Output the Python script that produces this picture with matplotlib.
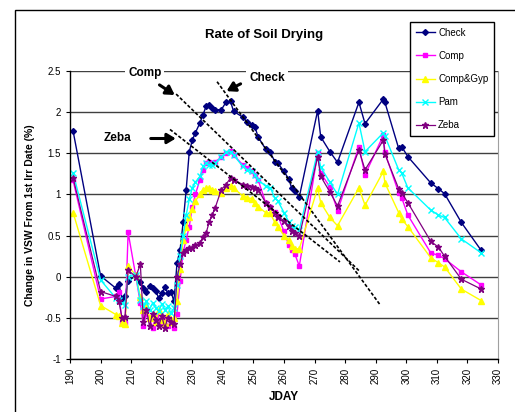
import numpy as np
import matplotlib
matplotlib.use('Agg')
import matplotlib.pyplot as plt
from matplotlib.patches import Rectangle

plt.rcParams['font.family'] = ['Liberation Sans', 'DejaVu Sans']
plt.rcParams['axes.unicode_minus'] = False

# measurement days (JDAY)
jday = [191, 200, 205, 206, 207, 208, 209, 211.5, 213, 214, 215, 216, 217, 218, 219,
        220, 221, 222, 223, 224, 225, 226, 227, 228, 229, 230, 231, 232.5, 233.5, 234.5,
        235.5, 236.5, 237.5, 239.5, 241, 242.5, 243.5, 246.5, 248, 249.5, 250.5, 251.5,
        254, 255.5, 257, 258, 260, 261.5, 262.5, 263.5, 265, 271, 272, 275, 277.5,
        284.5, 286.5, 292.5, 293, 297.5, 298.5, 300.5, 308, 310.5, 312.5, 318, 324.5]

check = [1.77, 0.01, -0.14, -0.09, -0.27, -0.23, -0.05, 0.01, -0.06, -0.14, -0.18, -0.11,
         -0.14, -0.17, -0.26, -0.20, -0.13, -0.20, -0.18, -0.30, 0.17, 0.33, 0.66, 1.06,
         1.52, 1.66, 1.75, 1.87, 1.97, 2.07, 2.09, 2.05, 2.03, 2.03, 2.12, 2.13, 2.01,
         1.94, 1.88, 1.85, 1.82, 1.70, 1.55, 1.51, 1.40, 1.38, 1.28, 1.19, 1.08, 1.04,
         0.97, 2.02, 1.70, 1.52, 1.39, 2.12, 1.86, 2.16, 2.12, 1.56, 1.58, 1.46, 1.14,
         1.07, 1.01, 0.66, 0.32]

comp = [1.17, -0.27, -0.24, -0.19, -0.56, -0.56, 0.54, 0.01, -0.32, -0.60, -0.45, -0.50,
        -0.62, -0.48, -0.55, -0.58, -0.50, -0.60, -0.55, -0.62, -0.45, -0.05, 0.30, 0.45,
        0.61, 0.85, 1.00, 1.18, 1.30, 1.38, 1.40, 1.38, 1.40, 1.45, 1.50, 1.53, 1.48,
        1.36, 1.32, 1.28, 1.24, 1.18, 0.90, 0.85, 0.79, 0.74, 0.55, 0.39, 0.32, 0.28,
        0.13, 1.50, 1.26, 1.09, 0.80, 1.58, 1.24, 1.72, 1.51, 1.02, 0.96, 0.75, 0.29,
        0.26, 0.22, 0.06, -0.10]

comp_gyp = [0.78, -0.35, -0.46, -0.48, -0.56, -0.57, 0.13, 0.02, -0.25, -0.40, -0.35, -0.50,
            -0.45, -0.55, -0.40, -0.52, -0.58, -0.45, -0.55, -0.50, -0.30, 0.10, 0.45, 0.60,
            0.72, 0.82, 0.92, 1.00, 1.06, 1.08, 1.08, 1.06, 1.04, 1.02, 1.08, 1.10, 1.08,
            0.98, 0.96, 0.95, 0.90, 0.85, 0.78, 0.77, 0.66, 0.61, 0.50, 0.45, 0.37, 0.34,
            0.34, 1.08, 0.90, 0.72, 0.62, 1.08, 0.87, 1.28, 1.14, 0.78, 0.70, 0.61, 0.23,
            0.17, 0.12, -0.15, -0.29]

pam = [1.26, -0.04, -0.26, -0.28, -0.32, -0.34, 0.00, 0.02, -0.28, -0.35, -0.30, -0.40,
       -0.32, -0.38, -0.42, -0.33, -0.40, -0.36, -0.44, -0.38, -0.10, 0.25, 0.50, 0.75,
       0.94, 1.08, 1.15, 1.22, 1.34, 1.38, 1.36, 1.36, 1.38, 1.46, 1.51, 1.52, 1.48,
       1.34, 1.30, 1.28, 1.24, 1.18, 1.10, 1.08, 0.96, 0.92, 0.78, 0.67, 0.62, 0.60,
       0.57, 1.52, 1.33, 1.15, 1.00, 1.87, 1.52, 1.75, 1.71, 1.30, 1.26, 1.08, 0.81,
       0.75, 0.72, 0.46, 0.29]

zeba = [1.20, -0.18, -0.24, -0.30, -0.50, -0.49, 0.08, 0.00, 0.15, -0.55, -0.40, -0.60,
        -0.45, -0.52, -0.60, -0.48, -0.62, -0.50, -0.55, -0.58, 0.00, 0.15, 0.29, 0.33,
        0.35, 0.35, 0.38, 0.41, 0.48, 0.53, 0.66, 0.75, 0.84, 1.06, 1.12, 1.20, 1.18,
        1.12, 1.10, 1.09, 1.08, 1.06, 0.90, 0.85, 0.78, 0.73, 0.68, 0.62, 0.55, 0.53,
        0.49, 1.46, 1.22, 1.03, 0.86, 1.54, 1.30, 1.66, 1.49, 1.07, 1.02, 0.90, 0.43,
        0.36, 0.25, -0.03, -0.15]

# hand drawn drying-rate lines (start, end) in JDAY / VSW
trend_check = ([238.1, 291.4], [2.37, -0.34])
trend_comp = ([224.7, 284.9], [2.22, 0.06])
trend_zeba = ([222.7, 278.3], [1.79, 0.18])

fig = plt.figure(figsize=(5.15, 4.12), dpi=100)
ax = fig.add_axes([0.136, 0.1286, 0.831, 0.699])

# outer chart frame
fig.patches.append(Rectangle((15 / 515, -0.1), 1.2, 1.1 - 10 / 412, transform=fig.transFigure,
                             fill=False, edgecolor='black', lw=1))

ax.plot(jday, check, color='#000080', marker='D', ms=3, lw=1, label='Check')
ax.plot(jday, comp, color='#FF00FF', marker='s', ms=3.5, lw=1, label='Comp')
ax.plot(jday, comp_gyp, color='#FFFF00', marker='^', ms=4, lw=1, label='Comp&Gyp')
ax.plot(jday, pam, color='#00FFFF', marker='x', ms=4, mew=1, lw=1, label='Pam')
ax.plot(jday, zeba, color='#800080', marker='*', ms=5, lw=0.9, label='Zeba')

for tx, ty in (trend_check, trend_comp, trend_zeba):
    ax.plot(tx, ty, color='black', lw=1.2, ls=(0, (2, 1.2)))

ax.set_xlim(190, 330)
ax.set_ylim(-1, 2.5)
ax.set_xticks(np.arange(190, 331, 10))
ax.set_yticks(np.arange(-1, 2.51, 0.5))
ax.set_yticklabels(['-1', '-0.5', '0', '0.5', '1', '1.5', '2', '2.5'])
ax.tick_params(axis='x', labelrotation=90, labelsize=7, direction='out', length=3)
ax.tick_params(axis='y', labelsize=7, direction='out', length=3)
ax.grid(axis='y', color='#404040', lw=1)
ax.set_axisbelow(True)
ax.spines['top'].set_visible(False)
ax.spines['right'].set_color('#a0a0a0')
ax.spines['left'].set_linewidth(1)
ax.spines['bottom'].set_linewidth(1)

# arrows and labels
arrow = dict(arrowstyle='-|>,head_length=0.5,head_width=0.3', lw=2.2, color='black')
ax.annotate('', xy=(225.0, 2.19), xytext=(218.5, 2.35), arrowprops=arrow)
ax.annotate('', xy=(240.4, 2.24), xytext=(246.6, 2.36), arrowprops=arrow)
ax.annotate('', xy=(225.5, 1.68), xytext=(215.5, 1.68), arrowprops=arrow)
box = dict(facecolor='white', edgecolor='none', pad=2)
ax.text(214.5, 2.48, 'Comp', fontsize=8.5, fontweight='bold', ha='center', va='center', bbox=box)
ax.text(254.4, 2.42, 'Check', fontsize=8.5, fontweight='bold', ha='center', va='center', bbox=box)
ax.text(205.4, 1.69, 'Zeba', fontsize=8.5, fontweight='bold', ha='center', va='center')

fig.text(0.512, 0.915, 'Rate of Soil Drying', fontsize=9.5, fontweight='bold', ha='center', va='center')
fig.text(0.058, 0.478, 'Change in VSW From 1st Irr Date (%)', fontsize=7.5, fontweight='bold',
         rotation=90, ha='center', va='center')
fig.text(0.551, 0.036, 'JDAY', fontsize=8.5, fontweight='bold', ha='center', va='center')

leg = fig.legend(loc='upper left', bbox_to_anchor=(0.796, 0.947), fontsize=7,
                 frameon=True, fancybox=False, edgecolor='black', framealpha=1,
                 labelspacing=1.35, handlelength=2.0, handletextpad=0.3,
                 borderpad=0.6, borderaxespad=0)
leg.get_frame().set_linewidth(1)

fig.savefig('out.png', dpi=100)
